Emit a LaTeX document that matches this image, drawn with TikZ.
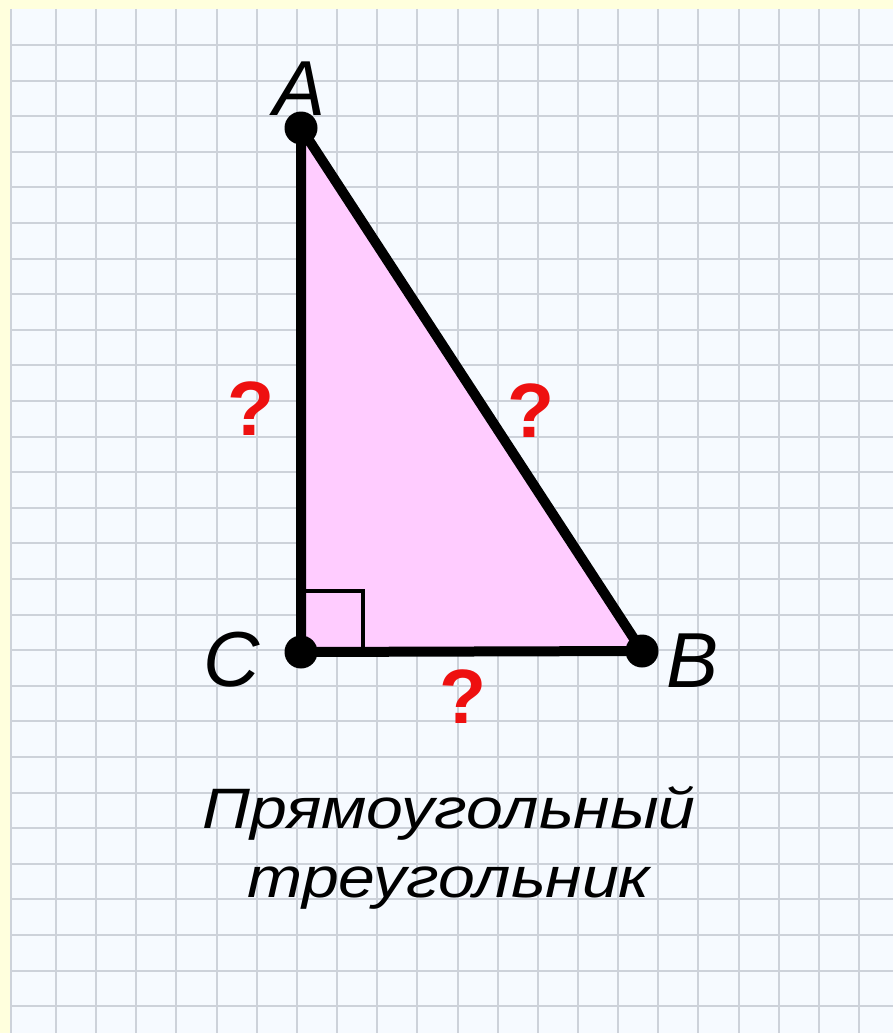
\documentclass[tikz,border=0pt]{standalone}
\usepackage{fontspec}
\setmainfont{Liberation Sans}
\newfontfamily\widesans[FakeStretch=1.16]{Liberation Sans}
\usetikzlibrary{positioning}
\definecolor{margin}{RGB}{255,255,221}
\definecolor{paper}{RGB}{246,250,255}
\definecolor{gridline}{RGB}{205,210,218}
\definecolor{trifill}{RGB}{255,204,255}
\definecolor{qred}{RGB}{238,16,16}

\begin{document}
\begin{tikzpicture}[
  x=1pt, y=-1pt,
  cell/.style={draw=gridline, line width=2pt},
  side/.style={line width=10pt, line join=round},
  vdot/.style={circle, fill=black, minimum size=33pt, inner sep=0pt},
  vlabel/.style={font=\fontsize{78}{80}\selectfont\itshape, inner sep=0pt, anchor=base},
  qmark/.style={font=\fontsize{77}{80}\selectfont\bfseries, text=qred, inner sep=0pt, anchor=base},
  caption/.style={font=\widesans\fontsize{57}{69}\selectfont\itshape, align=center, inner sep=0pt, anchor=base}
]
\useasboundingbox (0,0) rectangle (893,1033);

% ================= Paper =================
\fill[margin] (0,0) rectangle (893,1033);
\fill[paper] (10,9) rectangle (893,1033);
\draw[cell] (11,9) -- (11,1033);
\foreach \i in {0,...,20}
  \draw[cell] (56+40.15*\i,9) -- (56+40.15*\i,1033);
\foreach \j in {0,...,27}
  \draw[cell] (10,45+35.6*\j) -- (893,45+35.6*\j);

% ================= Triangle =================
\coordinate (A) at (301,128);
\coordinate (C) at (301,652);
\coordinate (B) at (642,651);
\coordinate (R) at (363,591);

\fill[trifill] (A) -- (B) -- (C) -- cycle;
\draw[line width=3.5pt] (C |- R) -- (R) -- (R |- C);
\draw[side] (A) -- (B) -- (C) -- cycle;

\node[vdot] (dA) at (A) {};
\node[vdot] (dB) at (B) {};
\node[vdot] (dC) at (C) {};

% ================= Labels =================
\node[vlabel] (lA) at (300,115) {A};
\node[vlabel] (lB) at (693,687) {B};
\node[vlabel] (lC) at (232,686) {C};

\node[qmark] (qAC) at (251,435) {?};
\node[qmark] (qAB) at (531,437) {?};
\node[qmark] (qCB) at (463,723) {?};

\node[caption] (title) at (449,897) {Прямоугольный\\треугольник};

\end{tikzpicture}
\end{document}
